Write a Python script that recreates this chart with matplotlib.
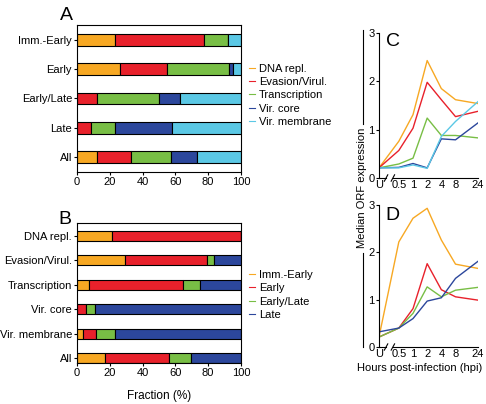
import matplotlib
matplotlib.use("Agg")
import matplotlib.pyplot as plt
import numpy as np
from matplotlib.lines import Line2D

plt.rcParams['font.family'] = ['Liberation Sans', 'DejaVu Sans']
plt.rcParams['font.size'] = 8

# colours
c_orange = "#F7A823"
c_red = "#E8212B"
c_green = "#78BE45"
c_blue = "#2C479C"
c_cyan = "#5BC8E5"

# panel A: kinetic classes split by function (%)
a_rows = ["Imm.-Early", "Early", "Early/Late", "Late", "All"]
a_series = ["DNA repl.", "Evasion/Virul.", "Transcription", "Vir. core", "Vir. membrane"]
a_dna = [23, 26, 0, 0, 12.2]
a_eva = [54.2, 29, 12.4, 8.3, 20.5]
a_tra = [15.1, 38, 37.6, 15.1, 24.4]
a_core = [0, 2, 12.8, 34.3, 16.3]
a_mem = [7.7, 5, 37.2, 42.3, 26.6]

# panel B: functional classes split by kinetics (%)
b_rows = ["DNA repl.", "Evasion/Virul.", "Transcription", "Vir. core", "Vir. membrane", "All"]
b_series = ["Imm.-Early", "Early", "Early/Late", "Late"]
b_ie = [21.3, 29.3, 7.1, 0, 3.5, 16.9]
b_e = [78.7, 50.2, 57.5, 5.7, 8.3, 39.2]
b_el = [0, 4.0, 10.6, 5.5, 11.2, 13.4]
b_l = [0, 16.5, 24.8, 88.8, 77.0, 30.5]

# panels C and D: median ORF expression over time
hpi_labels = ["U", "0.5", "1", "2", "4", "8", "24"]
hpi_hours = [0.5, 1, 2, 4, 8, 24]
c_dna = [0.21, 0.76, 1.31, 2.43, 1.85, 1.62, 1.54]
c_eva = [0.21, 0.57, 1.03, 1.98, 1.62, 1.27, 1.38]
c_tra = [0.21, 0.29, 0.41, 1.24, 0.88, 0.88, 0.83]
c_core = [0.21, 0.22, 0.30, 0.21, 0.81, 0.79, 1.14]
c_mem = [0.21, 0.21, 0.27, 0.20, 0.86, 1.17, 1.58]

d_ie = [0.21, 2.22, 2.72, 2.93, 2.26, 1.75, 1.66]
d_e = [0.21, 0.40, 0.81, 1.76, 1.21, 1.06, 0.99]
d_el = [0.21, 0.40, 0.71, 1.27, 1.06, 1.20, 1.26]
d_l = [0.32, 0.40, 0.60, 0.97, 1.04, 1.45, 1.81]

u_pos = -2.4
xpos = [u_pos] + list(np.log2(hpi_hours))

fig = plt.figure(figsize=(4.86, 4.04), dpi=100)


def stacked(ax, rows, series, colors):
    y = np.arange(len(rows))[::-1]
    left = np.zeros(len(rows))
    for vals, col in zip(series, colors):
        vals = np.array(vals, dtype=float)
        ax.barh(y, vals, left=left, height=0.4, color=col, edgecolor="black", linewidth=0.8)
        left += vals
    ax.set_yticks(y)
    ax.set_yticklabels(rows)
    ax.set_xlim(0, 100)
    ax.set_xticks([0, 20, 40, 60, 80, 100])
    ax.tick_params(length=2, width=0.8, pad=1.5)
    for s in ax.spines.values():
        s.set_linewidth(0.8)


axA = fig.add_axes([0.1584, 0.5743, 0.3374, 0.3639])
stacked(axA, a_rows, [a_dna, a_eva, a_tra, a_core, a_mem],
        [c_orange, c_red, c_green, c_blue, c_cyan])
axA.set_ylim(-0.5, 4.5)
hA = [Line2D([], [], color=c, lw=0.8) for c in [c_orange, c_red, c_green, c_blue, c_cyan]]
axA.legend(hA, a_series, loc="upper left", bbox_to_anchor=(1.0, 0.79), frameon=False,
           handlelength=0.6, handletextpad=0.3, labelspacing=0.3, borderaxespad=0.3)
fig.text(66 / 486, 1 - 16 / 404, "A", fontsize=14, ha="center", va="center")

axB = fig.add_axes([0.1584, 0.1015, 0.3374, 0.3465])
stacked(axB, b_rows, [b_ie, b_e, b_el, b_l], [c_orange, c_red, c_green, c_blue])
axB.set_ylim(-0.2, 5.52)
axB.set_xlabel("Fraction (%)", fontsize=8.5, labelpad=9)
hB = [Line2D([], [], color=c, lw=0.8) for c in [c_orange, c_red, c_green, c_blue]]
axB.legend(hB, b_series, loc="upper left", bbox_to_anchor=(1.0, 0.72), frameon=False,
           handlelength=0.6, handletextpad=0.3, labelspacing=0.3, borderaxespad=0.3)
fig.text(65 / 486, 1 - 219 / 404, "B", fontsize=14, ha="center", va="center")


def timecourse(ax, series, colors, letter, lx, ly):
    for vals, col in zip(series, colors):
        ax.plot(xpos, vals, color=col, lw=1.0)
    ax.set_xlim(u_pos, np.log2(24))
    ax.set_ylim(0, 3)
    ax.set_yticks([0, 1, 2, 3])
    ax.set_xticks(xpos)
    ax.set_xticklabels(hpi_labels)
    ax.spines["top"].set_visible(False)
    ax.spines["right"].set_visible(False)
    ax.spines["bottom"].set_visible(False)
    ax.spines["left"].set_linewidth(0.8)
    ax.tick_params(axis="y", length=2, width=0.8, pad=1)
    ax.tick_params(axis="x", length=0, pad=1.5)
    tr = ax.get_xaxis_transform()
    # broken x axis
    ax.plot([u_pos, -1.9], [0, 0], color="black", lw=0.8, transform=tr, clip_on=False)
    ax.plot([-1.42, np.log2(24)], [0, 0], color="black", lw=0.8, transform=tr, clip_on=False)
    for xb in (-1.9, -1.42):
        ax.plot([xb - 0.12, xb + 0.12], [-0.022, 0.022], color="black", lw=0.8,
                transform=tr, clip_on=False)
    fig.text(lx / 486, 1 - ly / 404, letter, fontsize=14, ha="center", va="center")


axC = fig.add_axes([0.7798, 0.5594, 0.2037, 0.3589])
timecourse(axC, [c_dna, c_eva, c_tra, c_core, c_mem],
           [c_orange, c_red, c_green, c_blue, c_cyan], "C", 393, 41)

axD = fig.add_axes([0.7798, 0.1411, 0.2037, 0.3515])
timecourse(axD, [d_ie, d_e, d_el, d_l], [c_orange, c_red, c_green, c_blue], "D", 392, 215)
fig.text(420 / 486, 1 - 368 / 404, "Hours post-infection (hpi)", fontsize=8,
         ha="center", va="center")

# shared y label with rules
fig.text(362 / 486, 1 - 188 / 404, "Median ORF expression", rotation=90,
         ha="center", va="center", fontsize=8)
fig.add_artist(Line2D([363 / 486, 363 / 486], [1 - 30 / 404, 1 - 124 / 404], color="black", lw=0.8))
fig.add_artist(Line2D([363 / 486, 363 / 486], [1 - 253 / 404, 1 - 347 / 404], color="black", lw=0.8))

fig.savefig("out.png", dpi=100)
